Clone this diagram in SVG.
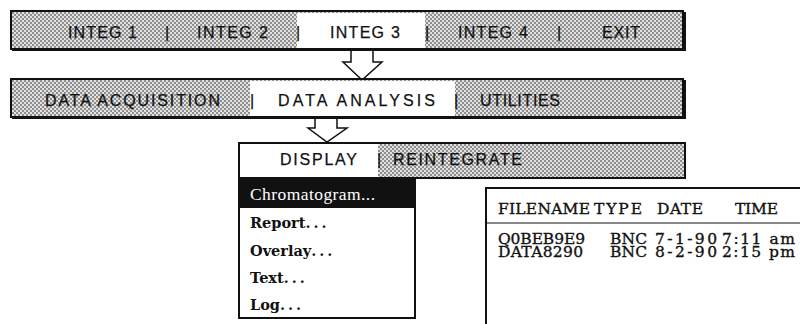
<svg xmlns="http://www.w3.org/2000/svg" width="800" height="324" viewBox="0 0 800 324">
<style>
.sans{font-family:"Liberation Sans",Arial,sans-serif;font-size:16px;fill:#111;stroke:#111;stroke-width:0.25}
.chrom{font-family:"Liberation Serif","Times New Roman",serif;font-size:17.5px;fill:#fff}
.item{font-family:"DejaVu Serif",serif;font-weight:bold;font-size:14.5px;fill:#111}
.tab{font-family:"DejaVu Serif",serif;font-size:15.5px;fill:#111;stroke:#111;stroke-width:0.35}
.box{fill:none;stroke:#111;stroke-width:2}
.shade{fill:url(#dots)}
.arrow{fill:#fff;stroke:#111;stroke-width:1.5;stroke-linejoin:miter}
</style>
<defs>
<pattern id="dots" width="4" height="4" patternUnits="userSpaceOnUse">
<rect width="4" height="4" fill="#e2e2e2"/>
<rect width="2" height="2" fill="#8e8e8e"/>
<rect x="2" y="2" width="2" height="2" fill="#8e8e8e"/>
</pattern>
</defs>
<rect width="800" height="324" fill="#fff"/>

<g id="connectors">
<path class="arrow" d="M351,50 V62 H343 L362,80 L382,62 H373 V50"/>
<path class="arrow" d="M315,118 V128 H308 L327,142 L347,128 H337 V118"/>
</g>

<g id="menu-integ">
<rect x="12" y="12" width="670" height="37" class="shade"/>
<rect x="297" y="13" width="128" height="35" fill="#fff"/>
<rect x="11" y="11" width="672" height="38" class="box"/>
<path d="M12,50 H685 V12" fill="none" stroke="#111" stroke-width="2"/>
<text class="sans" x="68" y="38" textLength="69">INTEG 1</text>
<text class="sans" x="165" y="38">|</text>
<text class="sans" x="197" y="38" textLength="71">INTEG 2</text>
<text class="sans" x="296" y="38">|</text>
<text class="sans" x="330" y="38" textLength="70">INTEG 3</text>
<text class="sans" x="425" y="38">|</text>
<text class="sans" x="458" y="38" textLength="70">INTEG 4</text>
<text class="sans" x="557" y="38">|</text>
<text class="sans" x="602" y="38" textLength="38">EXIT</text>
</g>

<g id="menu-data">
<rect x="12" y="80" width="670" height="37" class="shade"/>
<rect x="250" y="81" width="205" height="35" fill="#fff"/>
<rect x="11" y="79" width="672" height="38" class="box"/>
<path d="M12,118 H685 V80" fill="none" stroke="#111" stroke-width="2"/>
<text class="sans" x="45" y="106" textLength="175">DATA ACQUISITION</text>
<text class="sans" x="250" y="106">|</text>
<text class="sans" x="278" y="106" textLength="157">DATA ANALYSIS</text>
<text class="sans" x="454" y="106">|</text>
<text class="sans" x="480" y="106" textLength="80">UTILITIES</text>
</g>

<g id="menu-display">
<rect x="240" y="144" width="444" height="33" class="shade"/>
<rect x="240" y="144" width="138" height="33" fill="#fff"/>
<rect x="239" y="143" width="446" height="35" class="box"/>
<text class="sans" x="280" y="165" textLength="77">DISPLAY</text>
<text class="sans" x="377" y="165">|</text>
<text class="sans" x="393" y="165" textLength="129">REINTEGRATE</text>
</g>

<g id="dropdown">
<rect x="239" y="178" width="176" height="140" fill="#fff" stroke="#111" stroke-width="2"/>
<rect x="239" y="178" width="176" height="30" fill="#111"/>
<text class="chrom" x="250" y="200" textLength="125">Chromatogram...</text>
<text class="item" x="250" y="228">Report<tspan letter-spacing="3">...</tspan></text>
<text class="item" x="250" y="256">Overlay<tspan letter-spacing="3">...</tspan></text>
<text class="item" x="250" y="283">Text<tspan letter-spacing="3">...</tspan></text>
<text class="item" x="250" y="310">Log<tspan letter-spacing="3">...</tspan></text>
</g>

<g id="file-list">
<path d="M486,324 V188 H800" fill="none" stroke="#111" stroke-width="2"/>
<line x1="486" y1="223" x2="800" y2="223" stroke="#111" stroke-width="1.2"/>
<text class="tab" y="214"><tspan x="498" textLength="92">FILENAME</tspan><tspan x="594" textLength="48">TYPE</tspan><tspan x="657" textLength="46">DATE</tspan><tspan x="735" textLength="43">TIME</tspan></text>
<text class="tab"><tspan x="498" y="244" textLength="87">Q0BEB9E9</tspan><tspan x="610" y="244" textLength="37">BNC</tspan><tspan x="655" y="244" textLength="62">7-1-90</tspan><tspan x="722" y="244" textLength="73">7:11 am</tspan><tspan x="498" y="256.5" textLength="85">DATA8290</tspan><tspan x="610" y="256.5" textLength="37">BNC</tspan><tspan x="655" y="256.5" textLength="62">8-2-90</tspan><tspan x="722" y="256.5" textLength="73">2:15 pm</tspan></text>
</g>
</svg>
